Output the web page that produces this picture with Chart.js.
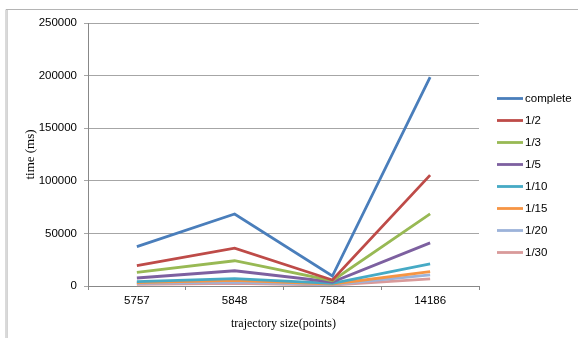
<!DOCTYPE html>
<html>
<head>
<meta charset="utf-8">
<script src="https://cdn.jsdelivr.net/npm/chart.js@4.4.1/dist/chart.umd.min.js"></script>
<style>
  html, body { margin: 0; padding: 0; background: #ffffff; }
  #wrap { width: 578px; height: 338px; position: relative; }
</style>
</head>
<body>
<div id="wrap"><canvas id="chart" width="578" height="338"></canvas></div>
<script>
// Trajectory sizes (x categories)
const categories = ['5757', '5848', '7584', '14186'];

// Query time in ms for each sampling rate
const complete = [37500, 68400, 9500, 198500];
const half     = [19300, 36000, 5700, 105400];
const third    = [13000, 24000, 5000, 68600];
const fifth    = [7600, 14500, 3800, 41000];
const tenth    = [4100, 7000, 2500, 21000];
const fifteenth = [3200, 5400, 1900, 13600];
const twentieth = [2500, 3800, 1300, 10500];
const thirtieth = [1600, 2500, 900, 6700];

const seriesNames = ['complete', '1/2', '1/3', '1/5', '1/10', '1/15', '1/20', '1/30'];
const seriesValues = [complete, half, third, fifth, tenth, fifteenth, twentieth, thirtieth];
const seriesColors = ['#4A7EBB', '#BE4B48', '#98B954', '#7D60A0', '#46AAC5', '#F69544', '#9CB3DA', '#D99A9A'];

// Y axis ticks
const yMin = 0;
const yMax = 250000;
const yStep = 50000;

const datasets = seriesNames.map((name, i) => ({
  label: name,
  data: seriesValues[i],
  borderColor: seriesColors[i],
  backgroundColor: seriesColors[i],
  borderWidth: 2.8,
  pointRadius: 0,
  pointHoverRadius: 0,
  tension: 0,
  fill: false
}));

// Thin frame around the figure (left and top edges visible)
const framePlugin = {
  id: 'frame',
  beforeDraw(chart) {
    const ctx = chart.ctx;
    ctx.save();
    ctx.fillStyle = '#ffffff';
    ctx.fillRect(0, 0, chart.width, chart.height);
    ctx.strokeStyle = '#b4b4b4';
    ctx.lineWidth = 1;
    ctx.beginPath();
    ctx.moveTo(6, chart.height);
    ctx.lineTo(6, 9.5);
    ctx.lineTo(chart.width, 9.5);
    ctx.stroke();
    ctx.strokeStyle = '#d4d4d4';
    ctx.beginPath();
    ctx.moveTo(7.5, chart.height);
    ctx.lineTo(7.5, 10);
    ctx.stroke();
    ctx.restore();
  }
};

// Legend drawn to the right of the plot area as short line samples
const sideLegend = {
  id: 'sideLegend',
  afterDraw(chart) {
    const ctx = chart.ctx;
    const x0 = 497, x1 = 523, tx = 525;
    const top = 98.5, gap = 22;
    ctx.save();
    ctx.font = '11.5px "Liberation Sans", Arial, sans-serif';
    ctx.textBaseline = 'middle';
    ctx.textAlign = 'left';
    chart.data.datasets.forEach((ds, i) => {
      const y = top + i * gap;
      ctx.strokeStyle = ds.borderColor;
      ctx.lineWidth = 2.8;
      ctx.lineCap = 'butt';
      ctx.beginPath();
      ctx.moveTo(x0, y);
      ctx.lineTo(x1, y);
      ctx.stroke();
      ctx.fillStyle = '#000000';
      ctx.fillText(ds.label, tx, y + 0.5);
    });
    ctx.restore();
  }
};

new Chart(document.getElementById('chart'), {
  type: 'line',
  data: { labels: categories, datasets },
  plugins: [framePlugin, sideLegend],
  options: {
    responsive: false,
    animation: false,
    events: [],
    layout: { padding: { left: 0, right: 99, top: 23, bottom: 0 } },
    plugins: {
      legend: { display: false },
      tooltip: { enabled: false }
    },
    scales: {
      x: {
        type: 'category',
        offset: true,
        afterFit(scale) { scale.height = 52; },
        grid: {
          offset: true,
          drawOnChartArea: false,
          drawTicks: true,
          tickLength: 4,
          color: '#888888',
          lineWidth: 1
        },
        border: { display: true, color: '#888888', width: 1 },
        ticks: {
          color: '#000000',
          padding: 4,
          font: { family: '"Liberation Sans", Arial, sans-serif', size: 11.5 },
          maxRotation: 0,
          autoSkip: false
        },
        title: {
          display: true,
          text: 'trajectory size(points)',
          color: '#000000',
          font: { family: '"Liberation Serif", "Times New Roman", serif', size: 12 },
          padding: { top: 0, bottom: 7 }
        }
      },
      y: {
        min: yMin,
        max: yMax,
        afterFit(scale) { scale.width = 88; },
        grid: {
          drawOnChartArea: true,
          drawTicks: true,
          tickLength: 4,
          color: '#a6a6a6',
          lineWidth: 1
        },
        border: { display: true, color: '#888888', width: 1 },
        ticks: {
          stepSize: yStep,
          color: '#000000',
          padding: 7,
          font: { family: '"Liberation Sans", Arial, sans-serif', size: 11.5 },
          callback: (v) => String(v)
        },
        title: {
          display: true,
          text: 'time (ms)',
          color: '#000000',
          font: { family: '"Liberation Serif", "Times New Roman", serif', size: 13 },
          padding: { top: 23, bottom: 0 }
        }
      }
    }
  }
});
</script>
</body>
</html>
